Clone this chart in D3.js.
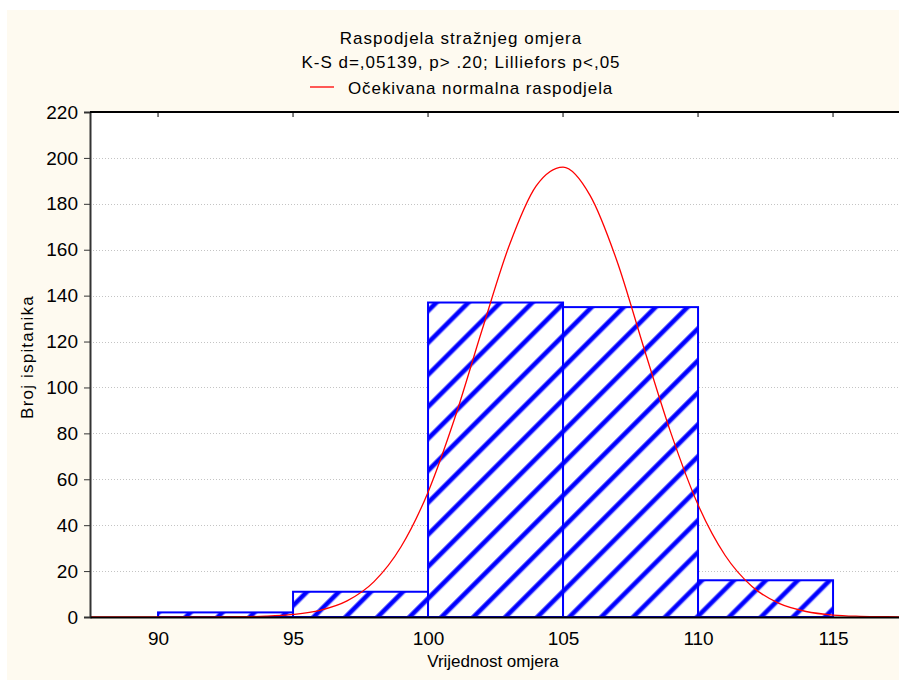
<!DOCTYPE html>
<html>
<head>
<meta charset="utf-8">
<script src="https://cdn.jsdelivr.net/npm/d3@7"></script>
<style>
  body { margin: 0; background: #ffffff; }
  svg { display: block; font-family: "Liberation Sans", Arial, sans-serif; }
</style>
</head>
<body>
<script>
// histogram bins (lower edge, upper edge) and counts
var binStart = [90, 95, 100, 105, 110];
var binEnd = [95, 100, 105, 110, 115];
var counts = [2, 11, 137, 135, 16];

// expected normal curve
var curveX = [87.5, 90, 92, 93, 94, 95, 96, 97, 98, 99, 100, 101, 102, 103, 104, 105,
              106, 107, 108, 109, 110, 111, 112, 113, 114, 115, 116, 117, 117.5];
var curveY = [0, 0, 0.05, 0.1, 0.35, 1.1, 2.9, 7, 15.4, 30.6, 54.4, 87, 125, 161.6, 187.7, 196,
              183.7, 155, 117, 80, 48.9, 26.9, 13.3, 5.9, 2.4, 0.85, 0.3, 0.1, 0.05];

var xTicks = [90, 95, 100, 105, 110, 115];
var yTicks = [0, 20, 40, 60, 80, 100, 120, 140, 160, 180, 200, 220];

var title1 = "Raspodjela stražnjeg omjera";
var title2 = "K-S d=,05139, p> .20; Lilliefors p<,05";
var legendText = "Očekivana normalna raspodjela";

var width = 899, height = 684;
var pLeft = 90, pTop = 112, pRight = 900, pBottom = 617;

var svg = d3.select("body").append("svg")
  .attr("width", width)
  .attr("height", height);

// cream panel
svg.append("rect")
  .attr("x", 7).attr("y", 10)
  .attr("width", width - 7).attr("height", 670)
  .attr("fill", "#fefaf0");

// hatch pattern
var defs = svg.append("defs");
var pat = defs.append("pattern")
  .attr("id", "hatch")
  .attr("patternUnits", "userSpaceOnUse")
  .attr("width", 22.6).attr("height", 22.6)
  .attr("patternTransform", "rotate(45)");
pat.append("rect").attr("width", 22.6).attr("height", 22.6).attr("fill", "#ffffff");
pat.append("rect").attr("x", 0).attr("width", 5.4).attr("height", 22.6).attr("fill", "#8080ff");
pat.append("rect").attr("x", 0.8).attr("width", 3.8).attr("height", 22.6).attr("fill", "#0000ff");

var clip = defs.append("clipPath").attr("id", "plotclip");
clip.append("rect").attr("x", pLeft).attr("y", pTop)
  .attr("width", pRight - pLeft).attr("height", pBottom - pTop + 2);

var x = d3.scaleLinear().domain([87.48, 117.48]).range([pLeft, pRight]);
var y = d3.scaleLinear().domain([0, 220]).range([pBottom, pTop]);

// plot area
svg.append("rect")
  .attr("x", pLeft).attr("y", pTop)
  .attr("width", pRight - pLeft).attr("height", pBottom - pTop)
  .attr("fill", "#ffffff");

// grid lines
svg.append("g")
  .selectAll("line")
  .data(yTicks.filter(function(d){ return d > 0 && d < 220; }))
  .enter().append("line")
  .attr("x1", pLeft).attr("x2", pRight)
  .attr("y1", function(d){ return Math.round(y(d)) + 0.5; })
  .attr("y2", function(d){ return Math.round(y(d)) + 0.5; })
  .attr("stroke", "#c4c4c4")
  .attr("stroke-width", 1)
  .attr("stroke-dasharray", "1,2");

// bars
svg.append("g")
  .selectAll("rect")
  .data(counts)
  .enter().append("rect")
  .attr("x", function(d, i){ return x(binStart[i]); })
  .attr("y", function(d){ return y(d); })
  .attr("width", function(d, i){ return x(binEnd[i]) - x(binStart[i]); })
  .attr("height", function(d){ return pBottom - y(d); })
  .attr("fill", "url(#hatch)")
  .attr("stroke", "#0000ff")
  .attr("stroke-width", 2);

// normal curve
var line = d3.line()
  .x(function(d, i){ return x(curveX[i]); })
  .y(function(d){ return y(d); })
  .curve(d3.curveMonotoneX);

svg.append("path")
  .datum(curveY)
  .attr("clip-path", "url(#plotclip)")
  .attr("d", line)
  .attr("fill", "none")
  .attr("stroke", "#ff0000")
  .attr("stroke-width", 1.3);

// axes
var yAxis = d3.axisLeft(y).tickValues(yTicks).tickSize(6).tickPadding(6);
var gy = svg.append("g").attr("transform", "translate(" + pLeft + ",0)").call(yAxis);
gy.select(".domain").attr("stroke", "#333333").attr("stroke-width", 2);
gy.selectAll(".tick line").attr("stroke", "#333333");
gy.selectAll("text").attr("font-size", 19).attr("fill", "#000000")
  .attr("font-family", "Liberation Sans, Arial, sans-serif");

var xAxis = d3.axisBottom(x).tickValues(xTicks).tickSize(0).tickPadding(15);
var gx = svg.append("g").attr("transform", "translate(0," + pBottom + ")").call(xAxis);
gx.select(".domain").attr("stroke", "#000000").attr("stroke-width", 2);
gx.selectAll("text").attr("font-size", 19).attr("fill", "#000000")
  .attr("font-family", "Liberation Sans, Arial, sans-serif");

// top frame with inward ticks
svg.append("line")
  .attr("x1", pLeft).attr("x2", pRight)
  .attr("y1", pTop).attr("y2", pTop)
  .attr("stroke", "#000000").attr("stroke-width", 2);
svg.append("g")
  .selectAll("line")
  .data(xTicks)
  .enter().append("line")
  .attr("x1", function(d){ return x(d); })
  .attr("x2", function(d){ return x(d); })
  .attr("y1", pTop).attr("y2", pTop + 5)
  .attr("stroke", "#000000");

// titles
svg.append("text").attr("x", 461).attr("y", 44)
  .attr("text-anchor", "middle").attr("font-size", 17)
  .attr("letter-spacing", 1).text(title1);
svg.append("text").attr("x", 461).attr("y", 68)
  .attr("text-anchor", "middle").attr("font-size", 17)
  .attr("letter-spacing", 1).text(title2);

// legend
svg.append("line")
  .attr("x1", 310).attr("x2", 334)
  .attr("y1", 87).attr("y2", 87)
  .attr("stroke", "#ff0000").attr("stroke-width", 1.3);
svg.append("text").attr("x", 348).attr("y", 94)
  .attr("font-size", 17).attr("letter-spacing", 0.9).text(legendText);

// axis titles
svg.append("text").attr("x", 493).attr("y", 667)
  .attr("text-anchor", "middle").attr("font-size", 17).text("Vrijednost omjera");
svg.append("text")
  .attr("transform", "translate(33,357) rotate(-90)")
  .attr("text-anchor", "middle").attr("font-size", 17)
  .attr("letter-spacing", 1.2).text("Broj ispitanika");
</script>
</body>
</html>
